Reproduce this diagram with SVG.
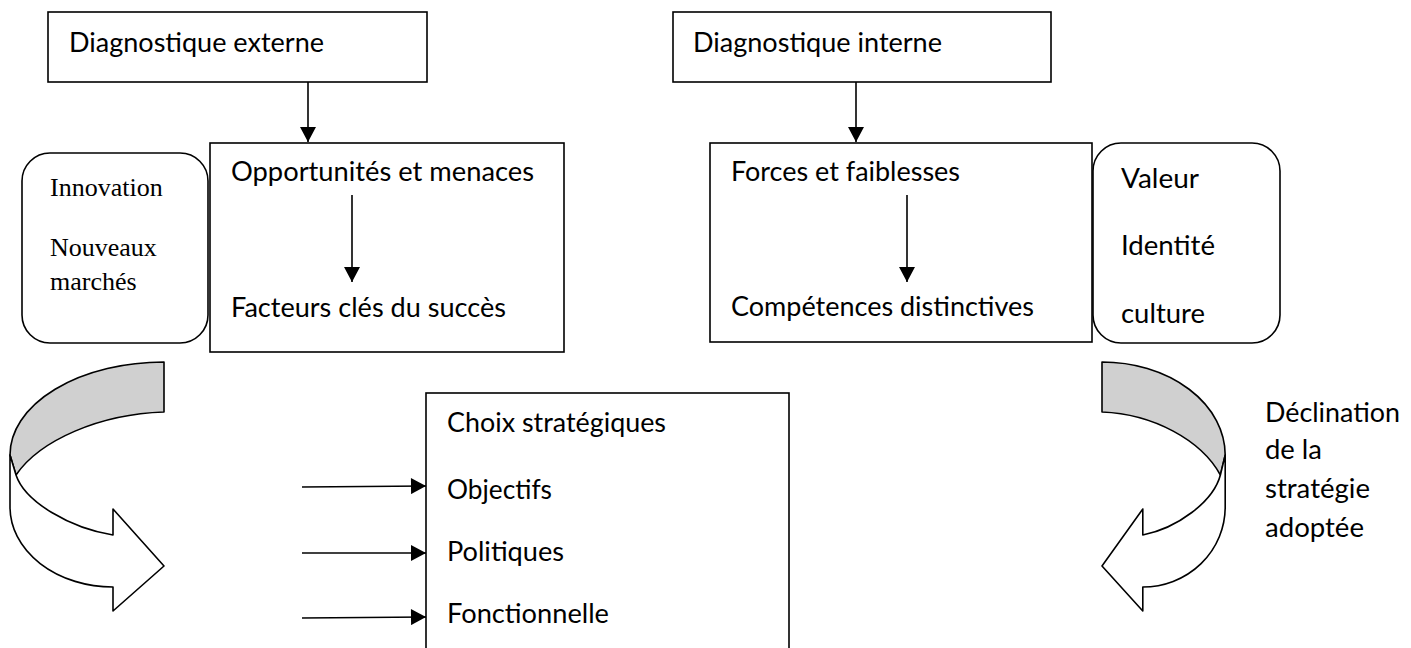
<svg xmlns="http://www.w3.org/2000/svg" width="1411" height="648" viewBox="0 0 1411 648">
<style>
.box{fill:#fff;stroke:#000;stroke-width:1.6}
.t{font-family:Lato,"Liberation Sans",sans-serif;font-size:27px;fill:#000}
.s{font-family:"Liberation Serif","Times New Roman",serif;font-size:26px;fill:#000}
.ln{stroke:#000;stroke-width:1.6;fill:none}
.gray{fill:#d0d0d0;stroke:#000;stroke-width:1.6;stroke-linejoin:round}
.wh{fill:#fff;stroke:#000;stroke-width:1.6;stroke-linejoin:round}
</style>
<defs>
<marker id="ah" markerUnits="userSpaceOnUse" markerWidth="16" markerHeight="16" viewBox="0 0 15 16" refX="15" refY="8" orient="auto">
<path d="M0,0 L15,8 L0,16 Z" fill="#000"/>
</marker>
</defs>
<rect width="1411" height="648" fill="#fff"/>

<g id="diag-externe">
<rect class="box" x="48" y="12" width="379" height="70"/>
<text class="t" x="69" y="52" textLength="255" lengthAdjust="spacingAndGlyphs">Diagnostique externe</text>
</g>
<g id="diag-interne">
<rect class="box" x="673" y="12" width="378" height="70"/>
<text class="t" x="693" y="52" textLength="249" lengthAdjust="spacingAndGlyphs">Diagnostique interne</text>
</g>
<g id="innovation">
<rect class="box" x="22" y="153" width="186" height="190" rx="28" ry="28"/>
<text class="s" x="50" y="196">Innovation</text>
<text class="s" x="50" y="256">Nouveaux</text>
<text class="s" x="50" y="290">marchés</text>
</g>
<g id="opportunites">
<rect class="box" x="210" y="143" width="354" height="209"/>
<text class="t" x="231" y="181" textLength="303" lengthAdjust="spacingAndGlyphs">Opportunités et menaces</text>
<text class="t" x="231" y="317" textLength="275" lengthAdjust="spacingAndGlyphs">Facteurs clés du succès</text>
</g>
<g id="forces">
<rect class="box" x="710" y="143" width="382" height="199"/>
<text class="t" x="731" y="181" textLength="229" lengthAdjust="spacingAndGlyphs">Forces et faiblesses</text>
<text class="t" x="731" y="316" textLength="303" lengthAdjust="spacingAndGlyphs">Compétences distinctives</text>
</g>
<g id="valeur">
<rect class="box" x="1093" y="143" width="187" height="200" rx="28" ry="28"/>
<text class="t" x="1121" y="188" textLength="78" lengthAdjust="spacingAndGlyphs">Valeur</text>
<text class="t" x="1121" y="255" textLength="94" lengthAdjust="spacingAndGlyphs">Identité</text>
<text class="t" x="1121" y="323" textLength="84" lengthAdjust="spacingAndGlyphs">culture</text>
</g>
<g id="choix">
<rect class="box" x="426" y="393" width="363" height="290"/>
<text class="t" x="447" y="432" textLength="219" lengthAdjust="spacingAndGlyphs">Choix stratégiques</text>
<text class="t" x="447" y="499" textLength="105" lengthAdjust="spacingAndGlyphs">Objectifs</text>
<text class="t" x="447" y="561" textLength="117" lengthAdjust="spacingAndGlyphs">Politiques</text>
<text class="t" x="447" y="623" textLength="162" lengthAdjust="spacingAndGlyphs">Fonctionnelle</text>
</g>
<g id="declination">
<text class="t" x="1265" y="422" textLength="135" lengthAdjust="spacingAndGlyphs">Déclination</text>
<text class="t" x="1265" y="459" textLength="57" lengthAdjust="spacingAndGlyphs">de la</text>
<text class="t" x="1265" y="498" textLength="105" lengthAdjust="spacingAndGlyphs">stratégie</text>
<text class="t" x="1265" y="537" textLength="99" lengthAdjust="spacingAndGlyphs">adoptée</text>
</g>

<g id="curved-arrow-left">
<path class="gray" d="M164,362 A154,93 0 0 0 10,455 L16,475 C40,440 100,414 164,412 Z"/>
<path class="wh" d="M10,455 L10,507 A103,80 0 0 0 113,587 L113,611 L164,566 L113,509 L113,535 C70,528 25,502 16,475 Z"/>
</g>
<g id="curved-arrow-right">
<path class="gray" d="M1102,362 A123.2,93 0 0 1 1225.2,455 L1220.4,475 C1201.2,440 1153.2,414 1102,412 Z"/>
<path class="wh" d="M1225.2,455 L1225.2,507 A82.4,80 0 0 1 1142.8,587 L1142.8,611 L1102,566 L1142.8,509 L1142.8,535 C1177.2,528 1213.2,502 1220.4,475 Z"/>
</g>

<g id="connectors">
<line class="ln" x1="308" y1="82" x2="308" y2="142" marker-end="url(#ah)"/>
<line class="ln" x1="856" y1="82" x2="856" y2="142" marker-end="url(#ah)"/>
<line class="ln" x1="352" y1="195" x2="352" y2="282" marker-end="url(#ah)"/>
<line class="ln" x1="907" y1="195" x2="907" y2="282" marker-end="url(#ah)"/>
<line class="ln" x1="302" y1="487" x2="426" y2="486" marker-end="url(#ah)"/>
<line class="ln" x1="302" y1="553" x2="426" y2="553" marker-end="url(#ah)"/>
<line class="ln" x1="302" y1="618" x2="426" y2="617" marker-end="url(#ah)"/>
</g>
</svg>
